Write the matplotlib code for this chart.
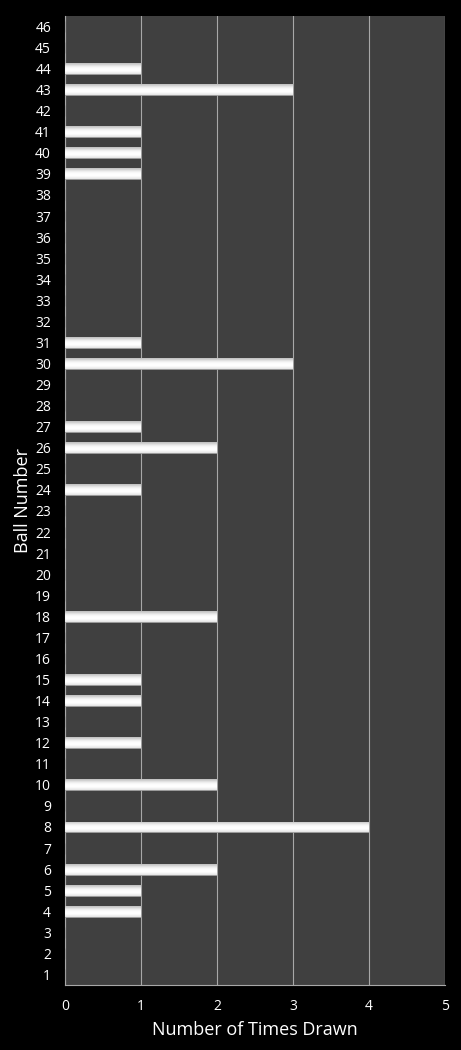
import matplotlib
matplotlib.use("Agg")
import matplotlib.pyplot as plt
import numpy as np

balls = list(range(1, 47))
drawn_balls = [4, 5, 6, 8, 10, 12, 14, 15, 18, 24, 26, 27, 30, 31, 39, 40, 41, 43, 44]
drawn_counts = [1, 1, 2, 4, 2, 1, 1, 1, 2, 1, 2, 1, 3, 1, 1, 1, 1, 3, 1]
counts = [dict(zip(drawn_balls, drawn_counts)).get(b, 0) for b in balls]
x_ticks = [0, 1, 2, 3, 4, 5]

plt.rcParams['font.family'] = ['Open Sans', 'DejaVu Sans']

fig = plt.figure(figsize=(4.61, 10.5), dpi=100, facecolor='black')
ax = fig.add_axes([0.141, 0.0619, 0.824, 0.923])
ax.set_facecolor('#404040')

bars = ax.barh(balls, counts, height=0.52, color='white', edgecolor='#9a9a9a', linewidth=0.6, zorder=3)

grad = np.array([0.90, 0.97, 1.0, 1.0, 0.98, 0.94, 0.86, 0.76]).reshape(-1, 1)
for b, v in zip(bars, counts):
    if v <= 0:
        continue
    x0, y0 = b.get_x(), b.get_y()
    w, h = b.get_width(), b.get_height()
    im = ax.imshow(grad, cmap='gray', vmin=0, vmax=1, aspect='auto',
                   extent=[x0, x0 + w, y0 + h, y0], origin='upper',
                   interpolation='bicubic', zorder=4)
    im.set_clip_path(b)

ax.set_xlim(0, 5)
ax.set_ylim(0.5, 46.5)
ax.set_xticks(x_ticks)
ax.set_yticks(balls)
ax.set_yticklabels([str(b) for b in balls])
ax.xaxis.grid(True, color='#a8a8a8', linewidth=0.8, zorder=1)
ax.set_axisbelow(True)
ax.tick_params(axis='both', colors='white', labelsize=10, length=0)
ax.tick_params(axis='x', pad=10)
ax.tick_params(axis='y', pad=10)
for side in ['top', 'right']:
    ax.spines[side].set_visible(False)
for side in ['left', 'bottom']:
    ax.spines[side].set_color('#a8a8a8')
    ax.spines[side].set_linewidth(0.8)

ax.set_xlabel('Number of Times Drawn', color='white', fontsize=13, labelpad=5)
ax.set_ylabel('Ball Number', color='white', fontsize=13, labelpad=2)

fig.savefig('out.png', dpi=100, facecolor='black')
